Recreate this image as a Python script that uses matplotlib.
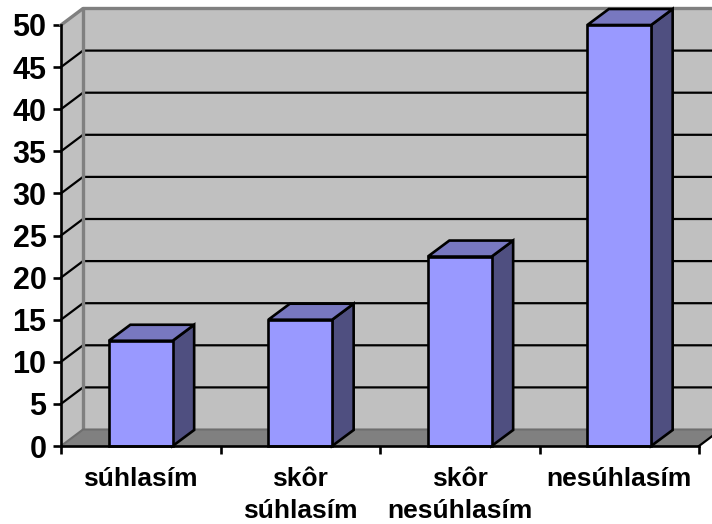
import matplotlib
matplotlib.use("Agg")
import matplotlib.pyplot as plt
from matplotlib.patches import Polygon

plt.rcParams['font.family'] = ['Liberation Sans', 'DejaVu Sans']

categories = ["súhlasím", "skôr\nsúhlasím", "skôr\nnesúhlasím", "nesúhlasím"]
values = [12.5, 15, 22.5, 50]
y_ticks = list(range(0, 55, 5))

BAR_WIDTH = 0.4
DEPTH_X = 22 / 159.5    # oblique depth in category units
DEPTH_Y = 16.5 / 8.42   # oblique depth in value units
BAR_DEPTH_X = 21.5 / 159.5
BAR_DEPTH_Y = 16 / 8.42

W, H = 712, 524
fig = plt.figure(figsize=(W / 100, H / 100), dpi=100, facecolor="white")
ax = fig.add_axes([61 / W, (H - 446) / H, 638 / W, 421 / H])
ax.set_xlim(0, len(categories))
ax.set_ylim(0, 50)
ax.set_facecolor("none")
for s in ax.spines.values():
    s.set_visible(False)

n = len(categories)
top = y_ticks[-1]

# Back wall, side wall and floor of the 3D box
ax.add_patch(Polygon([(DEPTH_X, DEPTH_Y), (n + DEPTH_X, DEPTH_Y), (n + DEPTH_X, top + DEPTH_Y), (DEPTH_X, top + DEPTH_Y)],
                     closed=True, fc="#C0C0C0", ec="none", clip_on=False, zorder=1))
ax.add_patch(Polygon([(0, 0), (DEPTH_X, DEPTH_Y), (DEPTH_X, top + DEPTH_Y), (0, top)],
                     closed=True, fc="#C0C0C0", ec="none", clip_on=False, zorder=1))
ax.add_patch(Polygon([(0, 0), (n, 0), (n + DEPTH_X, DEPTH_Y), (DEPTH_X, DEPTH_Y)],
                     closed=True, fc="#808080", ec="none", clip_on=False, zorder=1))

# Gridlines run along the side wall and across the back wall
for v in y_ticks[1:-1]:
    ax.plot([0, DEPTH_X, n + DEPTH_X], [v, v + DEPTH_Y, v + DEPTH_Y], color="black", lw=1.6,
            clip_on=False, zorder=2, solid_joinstyle="miter")

# Grey outline of the walls
ax.plot([0, DEPTH_X, n + DEPTH_X], [top, top + DEPTH_Y, top + DEPTH_Y], color="#808080", lw=2.4, clip_on=False, zorder=2)
ax.plot([DEPTH_X, DEPTH_X], [DEPTH_Y, top + DEPTH_Y], color="#808080", lw=2.4, clip_on=False, zorder=2)
ax.plot([0, DEPTH_X, n + DEPTH_X], [0, DEPTH_Y, DEPTH_Y], color="#6E6E6E", lw=1.5, clip_on=False, zorder=2)
ax.plot([n, n + DEPTH_X], [0, DEPTH_Y], color="black", lw=1.6, clip_on=False, zorder=2)

# Bars: side, top, then front face
for i, v in enumerate(values):
    x0 = i + 0.5 - BAR_WIDTH / 2
    x1 = i + 0.5 + BAR_WIDTH / 2
    side = [(x1, 0), (x1 + BAR_DEPTH_X, BAR_DEPTH_Y), (x1 + BAR_DEPTH_X, v + BAR_DEPTH_Y), (x1, v)]
    cap = [(x0, v), (x1, v), (x1 + BAR_DEPTH_X, v + BAR_DEPTH_Y), (x0 + BAR_DEPTH_X, v + BAR_DEPTH_Y)]
    front = [(x0, 0), (x1, 0), (x1, v), (x0, v)]
    for pts, col in ((side, "#4F4F80"), (cap, "#7878C0"), (front, "#9999FF")):
        ax.add_patch(Polygon(pts, closed=True, fc=col, ec="black", lw=1.9, clip_on=False,
                             zorder=3, joinstyle="miter"))

# Front axes on top of everything
ax.plot([0, 0], [0, top], color="black", lw=1.9, clip_on=False, zorder=4)
ax.plot([0, n], [0, 0], color="black", lw=1.9, clip_on=False, zorder=4)

ax.set_yticks(y_ticks)
ax.set_yticklabels([str(v) for v in y_ticks], fontsize=22, fontweight="bold")
ax.set_xticks(range(n + 1))
ax.set_xticklabels([""] * (n + 1))
ax.tick_params(axis="y", length=6, width=1.9, pad=4.5, color="black")
ax.tick_params(axis="x", length=6, width=1.9, color="black")

# Category labels sit between the tick marks
for i, label in enumerate(categories):
    ax.annotate(label, xy=(i + 0.5, 0), xycoords=("data", "axes fraction"), xytext=(0, -15),
                textcoords="offset points", ha="center", va="top", fontsize=19, fontweight="bold",
                linespacing=1.45, annotation_clip=False)

fig.savefig("out.png", dpi=100)
